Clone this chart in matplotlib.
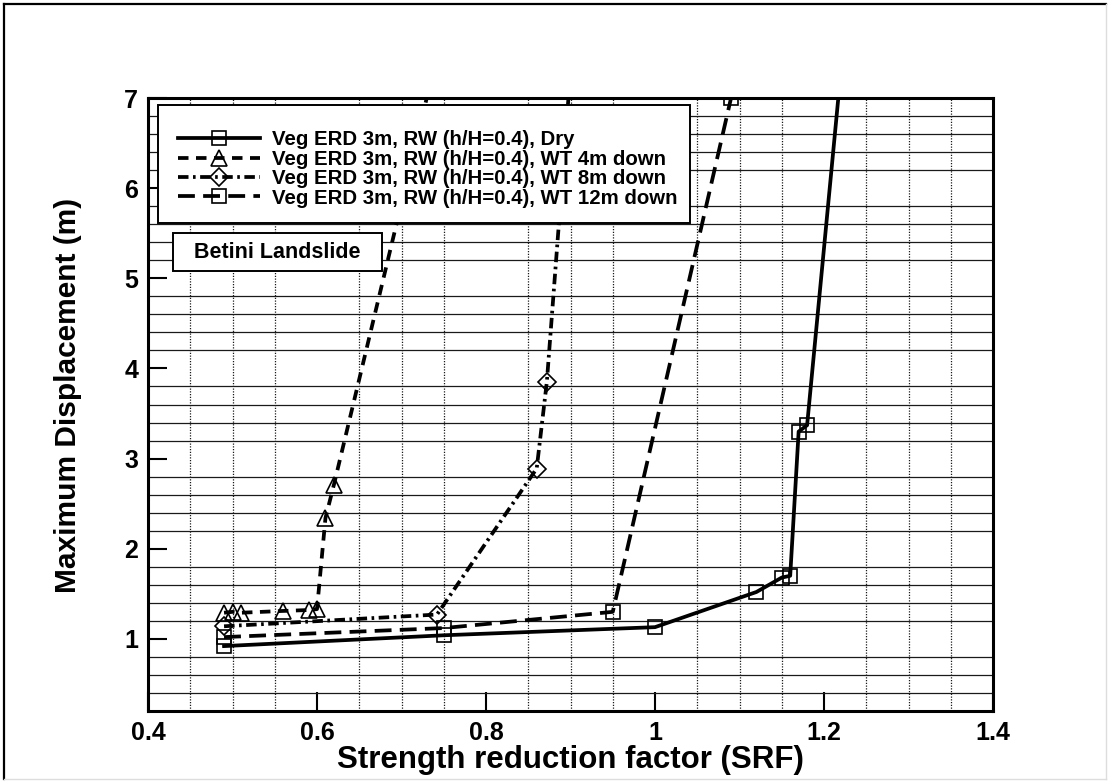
import matplotlib
matplotlib.use("Agg")
import matplotlib.pyplot as plt
from matplotlib.lines import Line2D
from matplotlib.patches import Rectangle
from matplotlib.ticker import MultipleLocator
from matplotlib import font_manager

# --- data -------------------------------------------------------------
dry_srf = [0.49, 0.75, 1.00, 1.12, 1.15, 1.16, 1.17, 1.18, 1.22]
dry_disp = [0.92, 1.04, 1.13, 1.52, 1.68, 1.70, 3.30, 3.37, 7.30]

wt4_srf = [0.49, 0.50, 0.51, 0.56, 0.59, 0.60, 0.61, 0.62, 0.735]
wt4_disp = [1.29, 1.30, 1.29, 1.31, 1.32, 1.33, 2.34, 2.71, 7.20]

wt8_srf = [0.49, 0.742, 0.86, 0.872, 0.90]
wt8_disp = [1.14, 1.27, 2.89, 3.85, 7.30]

wt12_srf = [0.49, 0.75, 0.95, 1.09]
wt12_disp = [1.02, 1.12, 1.30, 7.00]

labels = [
    "Veg ERD 3m, RW (h/H=0.4), Dry",
    "Veg ERD 3m, RW (h/H=0.4), WT 4m down",
    "Veg ERD 3m, RW (h/H=0.4), WT 8m down",
    "Veg ERD 3m, RW (h/H=0.4), WT 12m down",
]
x_ticks = [0.4, 0.6, 0.8, 1.0, 1.2, 1.4]
x_tick_labels = ["0.4", "0.6", "0.8", "1", "1.2", "1.4"]
y_ticks = [1, 2, 3, 4, 5, 6, 7]

# --- fonts ------------------------------------------------------------
names = {f.name for f in font_manager.fontManager.ttflist}
base_font = "Liberation Sans" if "Liberation Sans" in names else "DejaVu Sans"
plt.rcParams["font.family"] = [base_font, "DejaVu Sans"]

# --- figure -----------------------------------------------------------
W, H = 1109, 782
fig = plt.figure(figsize=(W / 100, H / 100), dpi=100)
ax = fig.add_axes([148 / W, 1 - 711 / H, (993 - 148) / W, (711 - 98) / H])

ax.set_xlim(0.4, 1.4)
ax.set_ylim(0.2, 7.0)

# grid: solid horizontal every 0.2, dotted vertical every 0.05
ax.xaxis.set_minor_locator(MultipleLocator(0.05))
ax.yaxis.set_minor_locator(MultipleLocator(0.2))
ax.grid(which="minor", axis="y", color="#1a1a1a", lw=0.9, ls="-")
ax.grid(which="minor", axis="x", color="#1a1a1a", lw=0.9, ls=(0, (1, 1.2)))
ax.set_axisbelow(True)

ax.set_xticks(x_ticks)
ax.set_xticklabels(x_tick_labels)
ax.set_yticks(y_ticks)
ax.tick_params(which="major", direction="in", length=14, width=1.5,
               labelsize=18, pad=7)
ax.tick_params(which="minor", direction="in", length=0)
for lab in ax.get_xticklabels() + ax.get_yticklabels():
    lab.set_fontweight("bold")

for sp in ax.spines.values():
    sp.set_linewidth(2.2)

lw = 2.7
mk = dict(markersize=10, markerfacecolor="none", markeredgecolor="black",
          markeredgewidth=1.2, color="black", lw=lw)
l1, = ax.plot(dry_srf, dry_disp, ls="-", marker="s", **mk)
l2, = ax.plot(wt4_srf, wt4_disp, ls=(0, (2.8, 2.0)), marker="^",
              **{**mk, "markersize": 11})
l3, = ax.plot(wt8_srf, wt8_disp, ls=(0, (2.8, 1.2, 0.7, 1.2)), marker="D",
              **{**mk, "markersize": 9})
l4, = ax.plot(wt12_srf, wt12_disp, ls=(0, (4.5, 2.2)), marker="s", **mk)

# legend box
ax.add_patch(Rectangle((10 / 845, (711 - 223) / 613), (690 - 158) / 845,
                       (223 - 105) / 613, transform=ax.transAxes,
                       facecolor="white", edgecolor="black", lw=1.4, zorder=5))
leg = ax.legend([l1, l2, l3, l4], labels, loc="center left",
                bbox_to_anchor=(30 / 845, (711 - 169) / 613),
                frameon=False, borderpad=0, borderaxespad=0,
                labelspacing=0.02, handlelength=4.0, handletextpad=0.62,
                prop=dict(family=base_font, weight="bold", size=14.7))
leg.set_zorder(6)

# site label
ax.add_patch(Rectangle((25 / 845, (711 - 271) / 613), (382 - 173) / 845,
                       (271 - 233) / 613, transform=ax.transAxes,
                       facecolor="white", edgecolor="black", lw=1.4, zorder=5))
ax.text((277 - 148) / 845, (711 - 252) / 613, "Betini Landslide",
        transform=ax.transAxes, ha="center", va="center", fontsize=15.5,
        fontweight="bold", zorder=6)

ax.set_xlabel("Strength reduction factor (SRF)", fontsize=22.5,
              fontweight="bold", labelpad=0)
ax.set_ylabel("Maximum Displacement (m)", fontsize=21.5, fontweight="bold")
ax.yaxis.set_label_coords((82 - 148) / 845, (711 - 395) / 613)

# outer frame
fig.add_artist(Line2D([4 / W, 4 / W], [1 - 4 / H, 1 - 779 / H], color="black", lw=1.6))
fig.add_artist(Line2D([4 / W, 1106 / W], [1 - 4 / H, 1 - 4 / H], color="black", lw=1.6))
fig.add_artist(Line2D([1106 / W, 1106 / W], [1 - 4 / H, 1 - 779 / H], color="#dddddd", lw=1.0))
fig.add_artist(Line2D([4 / W, 1106 / W], [1 - 779 / H, 1 - 779 / H], color="#dddddd", lw=1.0))

fig.savefig("out.png", dpi=100)
